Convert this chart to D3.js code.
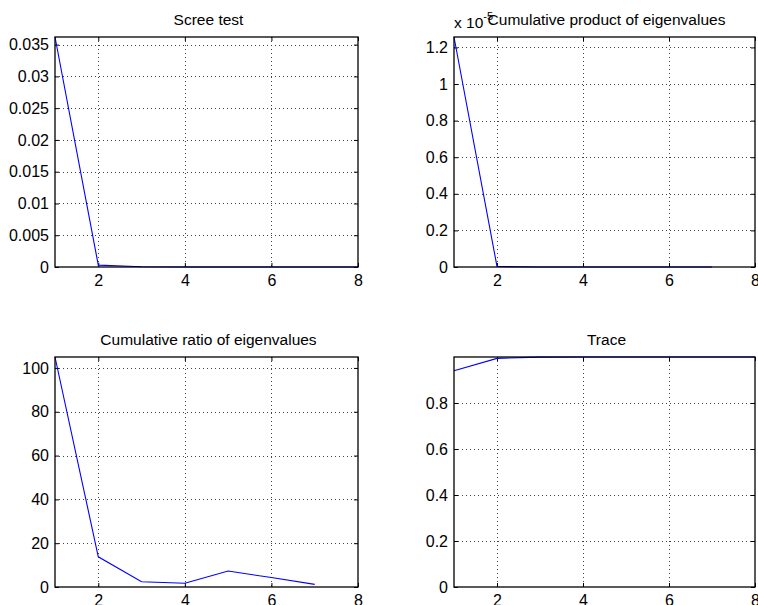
<!DOCTYPE html>
<html><head><meta charset="utf-8">
<script src="https://cdn.jsdelivr.net/npm/d3@7/dist/d3.min.js"></script>
<style>body{margin:0;background:#fff;}svg{display:block;font-family:"Liberation Sans",Arial,Helvetica,sans-serif;}</style>
</head><body><div id="c"></div>
<script>
const xTicks = [2, 4, 6, 8];
const screeValues = [0.0362, 0.0003, 0.00004, 0.00001, 0.000005, 0.000002, 0.000001, 0];
const screeTicks = [0, 0.005, 0.01, 0.015, 0.02, 0.025, 0.03, 0.035];
const prodValues = [1.257, 0.003, 0.0001, 0.00001, 0, 0, 0];
const prodTicks = [0, 0.2, 0.4, 0.6, 0.8, 1, 1.2];
const ratioValues = [105, 13.8, 2.4, 1.7, 7.3, 4.3, 1.2];
const ratioTicks = [0, 20, 40, 60, 80, 100];
const traceValues = [0.94, 0.994, 0.9995, 0.9998, 0.9999, 1.0, 1.0, 1.0];
const traceTicks = [0, 0.2, 0.4, 0.6, 0.8];

const panels = [
  {title: "Scree test", vals: screeValues, ticks: screeTicks, ymax: 0.0362, x0: 55, x1: 358, y0: 37, y1: 267},
  {title: "Cumulative product of eigenvalues", vals: prodValues, ticks: prodTicks, ymax: 1.257, x0: 454, x1: 755, y0: 37, y1: 267, expo: true},
  {title: "Cumulative ratio of eigenvalues", vals: ratioValues, ticks: ratioTicks, ymax: 105, x0: 55, x1: 358, y0: 357, y1: 587},
  {title: "Trace", vals: traceValues, ticks: traceTicks, ymax: 1.0, x0: 454, x1: 755, y0: 357, y1: 587}
];

const svg = d3.select("#c").append("svg").attr("width", 758).attr("height", 605);

panels.forEach(p => {
  const x = d3.scaleLinear().domain([1, 8]).range([p.x0, p.x1]);
  const y = d3.scaleLinear().domain([0, p.ymax]).range([p.y1, p.y0]);
  const g = svg.append("g");
  g.selectAll(".gx").data(xTicks.filter(t => t < 8)).enter().append("line")
    .attr("x1", d => Math.round(x(d)) + 0.5).attr("x2", d => Math.round(x(d)) + 0.5).attr("y1", p.y0).attr("y2", p.y1)
    .attr("stroke", "#444").attr("stroke-width", 1).attr("stroke-dasharray", "1,3");
  g.selectAll(".gy").data(p.ticks.filter(t => t > 0)).enter().append("line")
    .attr("x1", p.x0).attr("x2", p.x1).attr("y1", d => Math.round(y(d)) + 0.5).attr("y2", d => Math.round(y(d)) + 0.5)
    .attr("stroke", "#444").attr("stroke-width", 1).attr("stroke-dasharray", "1,3");
  const ax = d3.axisBottom(x).tickValues(xTicks).tickSize(-4).tickPadding(8).tickFormat(d3.format("d"));
  const axT = d3.axisTop(x).tickValues(xTicks).tickSize(-4).tickFormat("");
  const ay = d3.axisLeft(y).tickValues(p.ticks).tickSize(-4).tickPadding(6).tickFormat(d => String(d));
  const ayR = d3.axisRight(y).tickValues(p.ticks).tickSize(-4).tickFormat("");
  const styleAxis = sel => {
    sel.select(".domain").remove();
    sel.selectAll("line").attr("stroke", "#000");
    sel.selectAll("text").attr("fill", "#000").style("font-size", "16px").style("font-family", "'Liberation Sans',Arial,sans-serif");
  };
  g.append("g").attr("transform", `translate(0,${p.y1})`).call(ax).call(styleAxis);
  g.append("g").attr("transform", `translate(0,${p.y0})`).call(axT).call(styleAxis);
  g.append("g").attr("transform", `translate(${p.x0},0)`).call(ay).call(styleAxis);
  g.append("g").attr("transform", `translate(${p.x1},0)`).call(ayR).call(styleAxis);
  const line = d3.line().x((d, i) => x(i + 1)).y(d => y(d));
  g.append("path").datum(p.vals).attr("d", line).attr("fill", "none").attr("stroke", "#0000ff").attr("stroke-width", 1.1);
  g.append("rect").attr("x", p.x0).attr("y", p.y0).attr("width", p.x1 - p.x0).attr("height", p.y1 - p.y0)
    .attr("fill", "none").attr("stroke", "#000").attr("stroke-width", 1.3);
  if (p.expo) {
    const t = g.append("text").attr("x", p.x0).attr("y", p.y0 - 9).style("font-size", "15.5px").attr("fill", "#000");
    t.append("tspan").text("x 10");
    t.append("tspan").attr("dy", -8).style("font-size", "11px").text("-5");
  }
  g.append("text").attr("x", (p.x0 + p.x1) / 2 + 2).attr("y", p.y0 - 12).attr("text-anchor", "middle")
    .style("font-size", "15.5px").attr("fill", "#000").text(p.title);
});
</script></body></html>
